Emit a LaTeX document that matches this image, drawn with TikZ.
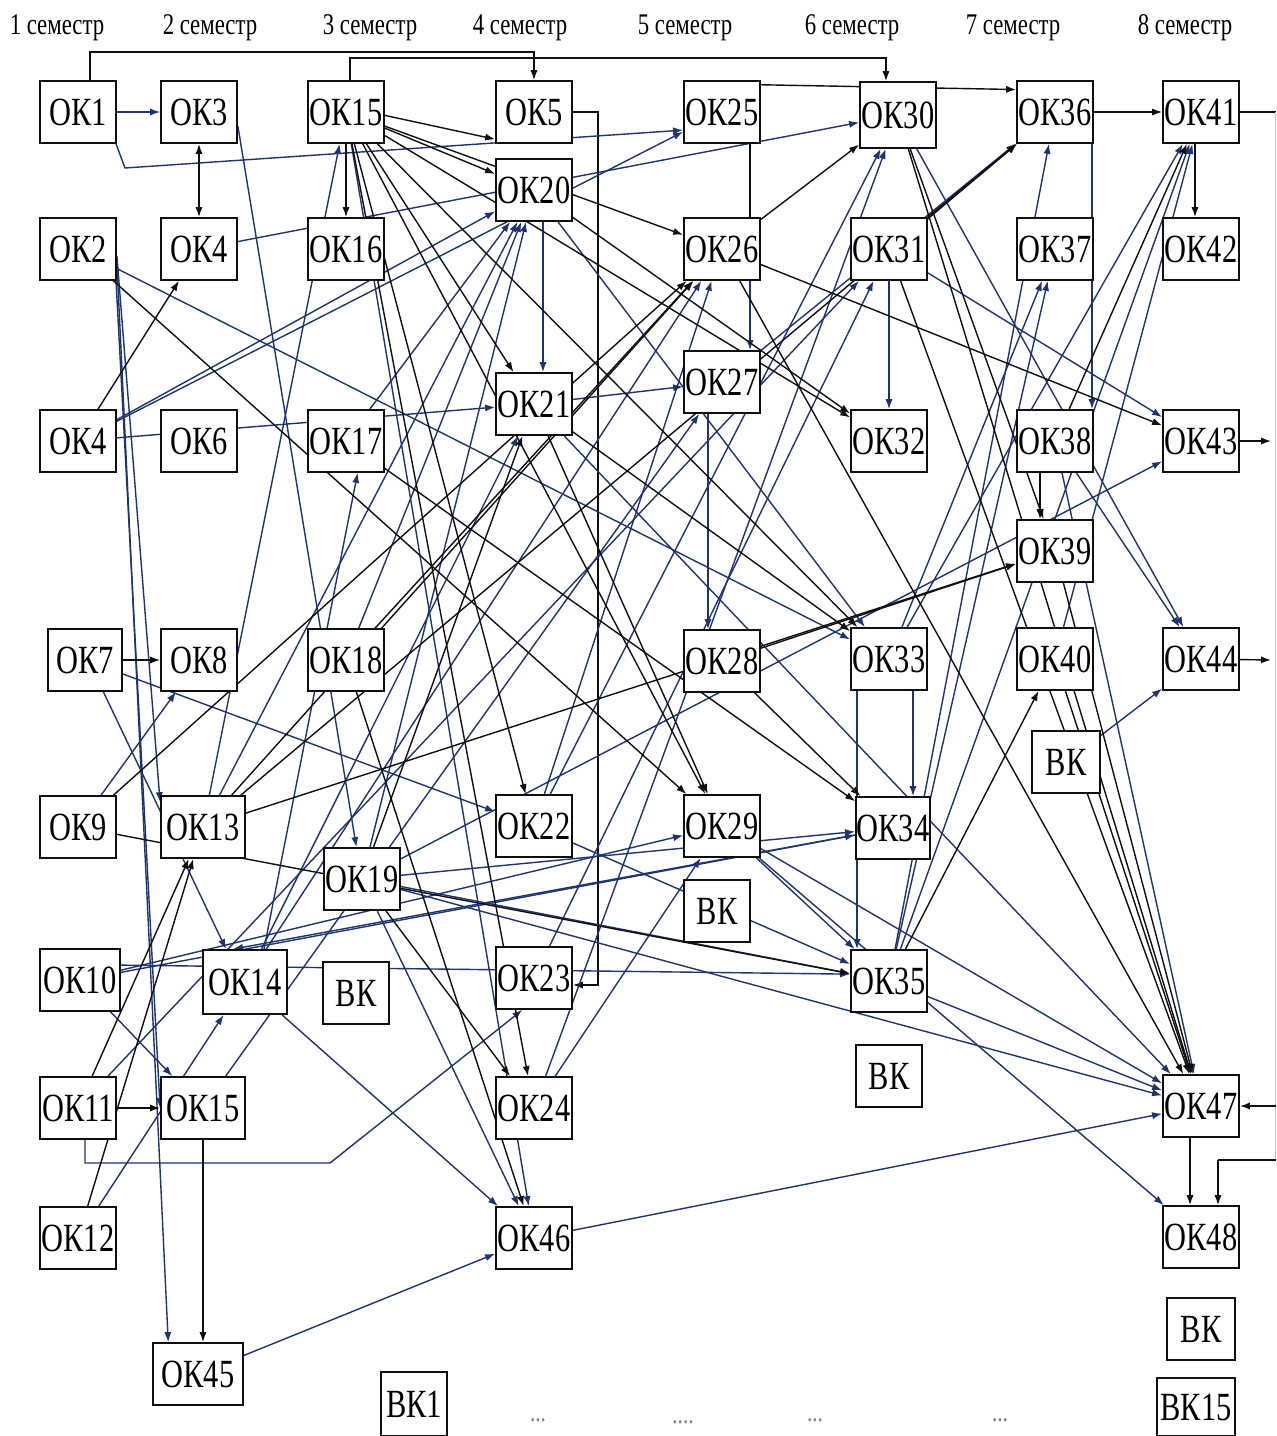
\documentclass[tikz,border=0pt]{standalone}
\usepackage{fontspec}
\newfontfamily\boxfont{Liberation Serif}[FakeStretch=0.76]
\usetikzlibrary{arrows.meta}
\definecolor{navy}{RGB}{30,52,112}
\definecolor{ink}{RGB}{15,15,15}
\pgfdeclarelayer{bg}
\pgfsetlayers{bg,main}
\tikzset{
  okbox/.style={draw=ink, line width=0.9pt, fill=white, minimum width=38pt, minimum height=31pt, inner sep=0pt, font=\boxfont\fontsize{20}{20}\selectfont},
  head/.style={font=\boxfont\fontsize{15}{15}\selectfont, inner sep=0pt},
  dotlab/.style={font=\boxfont\fontsize{14}{14}\selectfont, text=gray, inner sep=0pt},
  bl/.style={draw=navy, line width=0.7pt, -{Latex[length=5pt,width=3.6pt]}},
  kl/.style={draw=ink, line width=0.7pt, -{Latex[length=5pt,width=3.6pt]}},
}
\begin{document}
\begin{tikzpicture}[x=0.5pt,y=-0.5pt]
\useasboundingbox (0,0) rectangle (1276,1436);
% headers
\node[head] (h1) at (57,28) {1 семестр};
\node[head] (h2) at (210,28) {2 семестр};
\node[head] (h3) at (370,28) {3 семестр};
\node[head] (h4) at (520,28) {4 семестр};
\node[head] (h5) at (685,28) {5 семестр};
\node[head] (h6) at (852,28) {6 семестр};
\node[head] (h7) at (1013,28) {7 семестр};
\node[head] (h8) at (1185,28) {8 семестр};
% row A
\node[okbox] (ok1) at (78,112) {ОК1};
\node[okbox] (ok3) at (199,112) {ОК3};
\node[okbox] (ok15a) at (346,112) {ОК15};
\node[okbox] (ok5) at (534,112) {ОК5};
\node[okbox] (ok25) at (722,112) {ОК25};
\node[okbox, minimum height=33pt] (ok30) at (898,115) {ОК30};
\node[okbox] (ok36) at (1055,112) {ОК36};
\node[okbox] (ok41) at (1201,112) {ОК41};
% row B
\node[okbox] (ok2) at (78,249) {ОК2};
\node[okbox] (ok4b) at (199,249) {ОК4};
\node[okbox] (ok16) at (346,249) {ОК16};
\node[okbox] (ok20) at (534,190) {ОК20};
\node[okbox] (ok26) at (722,249) {ОК26};
\node[okbox] (ok31) at (889,249) {ОК31};
\node[okbox] (ok37) at (1055,249) {ОК37};
\node[okbox] (ok42) at (1201,249) {ОК42};
% row C
\node[okbox] (ok4a) at (78,441) {ОК4};
\node[okbox] (ok6) at (199,441) {ОК6};
\node[okbox] (ok17) at (346,441) {ОК17};
\node[okbox] (ok21) at (534,404) {ОК21};
\node[okbox] (ok27) at (722,382) {ОК27};
\node[okbox] (ok32) at (889,441) {ОК32};
\node[okbox] (ok38) at (1055,441) {ОК38};
\node[okbox] (ok43) at (1201,441) {ОК43};
\node[okbox] (ok39) at (1055,551) {ОК39};
% row D
\node[okbox, minimum width=37pt] (ok7) at (85,660) {ОК7};
\node[okbox] (ok8) at (199,660) {ОК8};
\node[okbox] (ok18) at (346,660) {ОК18};
\node[okbox] (ok28) at (722,661) {ОК28};
\node[okbox] (ok33) at (889,659) {ОК33};
\node[okbox] (ok40) at (1055,659) {ОК40};
\node[okbox] (ok44) at (1201,659) {ОК44};
\node[okbox, minimum width=34pt] (bkg) at (1066,762) {ВК};
% row E
\node[okbox] (ok9) at (78,827) {ОК9};
\node[okbox, minimum width=42pt] (ok13) at (203,827) {ОК13};
\node[okbox] (ok22) at (534,826) {ОК22};
\node[okbox] (ok29) at (722,826) {ОК29};
\node[okbox, minimum width=37pt] (ok34) at (893,828) {ОК34};
\node[okbox] (ok19) at (362,879) {ОК19};
\node[okbox, minimum width=33pt] (bke) at (717,911) {ВК};
% row F
\node[okbox, minimum width=40pt] (ok10) at (80,980) {ОК10};
\node[okbox, minimum width=42pt, minimum height=32pt] (ok14) at (245,982) {ОК14};
\node[okbox, minimum width=33pt] (bkc) at (356,993) {ВК};
\node[okbox] (ok23) at (534,978) {ОК23};
\node[okbox] (ok35) at (889,981) {ОК35};
\node[okbox, minimum width=33pt] (bkf) at (889,1076) {ВК};
% row G
\node[okbox] (ok11) at (78,1108) {ОК11};
\node[okbox, minimum width=42pt] (ok15b) at (203,1108) {ОК15};
\node[okbox] (ok24) at (534,1108) {ОК24};
\node[okbox] (ok47) at (1201,1106) {ОК47};
% row H
\node[okbox] (ok12) at (78,1238) {ОК12};
\node[okbox] (ok46) at (534,1238) {ОК46};
\node[okbox] (ok48) at (1201,1237) {ОК48};
% bottom
\node[okbox, minimum width=45pt] (ok45) at (198,1374) {ОК45};
\node[okbox, minimum width=34pt] (bkh) at (1201,1329) {ВК};
\node[okbox, minimum width=33pt, minimum height=32pt] (bk1) at (414,1404) {ВК1};
\node[okbox, minimum width=39pt, minimum height=29pt] (bk15) at (1196,1407) {ВК15};
\node[dotlab] (d1) at (538,1420) {...};
\node[dotlab] (d2) at (683,1422) {....};
\node[dotlab] (d3) at (815,1420) {...};
\node[dotlab] (d4) at (1000,1420) {...};

\begin{pgfonlayer}{bg}
\fill[white] (0,0) rectangle (1276,1436);
% elbow connectors
\coordinate (e1a) at (90,52);
\draw[kl] (e1a |- ok1.north) -- (e1a) -- (e1a -| ok5.north) -- (ok5.north);
\coordinate (e2a) at (350,58);
\coordinate (e2b) at (886,58);
\draw[kl] (e2a |- ok15a.north) -- (e2a) -- (e2b) -- (e2b |- ok30.north);
\coordinate (e3a) at (598,112);
\coordinate (e3b) at (598,985);
\draw[kl] (ok5.east) -- (e3a) -- (e3b) -- (e3b -| ok23.east);
\coordinate (e4a) at (85,1163);
\coordinate (e4b) at (330,1163);
\draw[bl] (e4a |- ok11.south) -- (e4a) -- (e4b) -- (ok23.250);
\coordinate (e5a) at (125,168);
\draw[bl] (ok1.-40) -- (e5a) -- (ok25.205);
% right edge bus (mostly cut off at the picture edge)
\coordinate (rt) at (1275.5,112);
\coordinate (rb) at (1275.5,1160);
\coordinate (rm) at (1218,1160);
\coordinate (r43) at (1271,441);
\coordinate (r44) at (1271,660);
\draw[ink, line width=0.7pt] (ok41.east) -- (rt);
\draw[gray!45, line width=0.4pt] (rt) -- (rb);
\draw[kl,-] (rb) -- (rm);
\draw[kl] (rm) -- (rm |- ok48.north);
\draw[kl] (rb |- ok47.east) -- (ok47.east);
\draw[kl] (ok43) -- (r43);
\draw[kl] (ok44) -- (r44);
% vertical connectors
\coordinate (x750) at (750,0);
\draw[kl,-] (x750 |- ok25.south) -- (x750 |- ok26.north);
\draw[bl] (x750 |- ok26.south) -- (x750 |- ok27.north);
\coordinate (x708) at (708,0);
\draw[bl] (x708 |- ok27.south) -- (x708 |- ok28.north);
\coordinate (x543) at (543,0);
\draw[bl] (x543 |- ok20.south) -- (x543 |- ok21.north);
\coordinate (x913) at (913,0);
\draw[bl] (x913 |- ok33.south) -- (x913 |- ok34.north);
\coordinate (x857) at (857,0);
\draw[bl] (x857 |- ok33.south) -- (x857 |- ok35.north);
\coordinate (x1040) at (1040,0);
\draw[kl] (x1040 |- ok38.south) -- (x1040 |- ok39.north);
\coordinate (x1092) at (1092,0);
\draw[bl] (x1092 |- ok36.south) -- (x1092 |- ok38.north);
\coordinate (x1195) at (1195,0);
\draw[kl] (x1195 |- ok41.south) -- (x1195 |- ok42.north);
\coordinate (x203) at (203,0);
\draw[kl] (x203 |- ok15b.south) -- (x203 |- ok45.north);
\coordinate (x1190) at (1190,0);
\draw[kl] (x1190 |- ok47.south) -- (x1190 |- ok48.north);
\draw[kl] (ok15a) -- (ok16);
\draw[kl, {Latex[length=5pt,width=3.6pt]}-{Latex[length=5pt,width=3.6pt]}] (ok3) -- (ok4b);
% blue connectors
\foreach \a/\b in {ok1/ok3, ok3.-20/ok19.100, ok15a/ok46, ok2.-20/ok45.133, ok2.-40/ok15b.west, ok2.-10/ok13.150, ok2/ok33,
  ok4a/ok21, ok4a/ok25, ok4a/ok20, ok4b/ok30, ok7/ok22, ok7.-60/ok14.120, ok9/ok8, ok10/ok34, ok10/ok29, ok10.20/ok35.170,
  ok10/ok15b, ok11/ok31, ok12/ok14, ok13/ok15a, ok13/ok20, ok14/ok46, ok14.60/ok17.-70, ok14/ok21, ok14/ok26, ok15b/ok27,
  ok17/ok20, ok18/ok20, ok19/ok20, ok19/ok34, ok19/ok35, ok19/ok47, ok19/ok46, ok19/ok43, ok34/ok14.110, ok20/ok33, ok21/ok27,
  ok21/ok47, ok22/ok26, ok22/ok35, ok22/ok30, ok23/ok31, ok24/ok29, ok24/ok30, ok27/ok36, ok29/ok47, ok29/ok48, ok29/ok35,
  ok30/ok44, ok31/ok43, ok33/ok41, ok35/ok47, ok35/ok41, ok35/ok36, ok35/ok37, ok33/ok37, ok38/ok44, ok38/ok47, ok40/ok41,
  bkg/ok44, ok45/ok46, ok46/ok47, ok31/ok32}
  \draw[bl] (\a) -- (\b);
% black connectors
\foreach \a/\b in {ok15a.-5/ok5.-145, ok15a/ok20, ok15a/ok26, ok15a/ok21, ok15a/ok22, ok15a/ok32, ok15a/ok33, ok15a/ok24,
  ok15a/ok29, ok2/ok29, ok4a/ok4b, ok7/ok8, ok9/ok26, ok9/ok35, ok11/ok15b, ok11/ok13, ok12/ok13, ok13/ok26, ok13/ok36,
  ok13/ok39, ok17/ok34, ok18/ok26, ok18/ok46, ok19/ok21, ok19/ok24, ok20/ok32, ok21/ok29, ok21/ok33, ok26/ok43, ok26/ok47,
  ok26/ok30, ok28/ok34, ok28/ok39, ok30/ok47, ok30/ok39, ok31/ok36, ok31/ok47, ok35/ok40, ok36/ok41, ok38/ok41, ok39/ok47,
  ok40/ok47, ok25.35/ok36.150}
  \draw[kl] (\a) -- (\b);
\end{pgfonlayer}
\end{tikzpicture}
\end{document}
